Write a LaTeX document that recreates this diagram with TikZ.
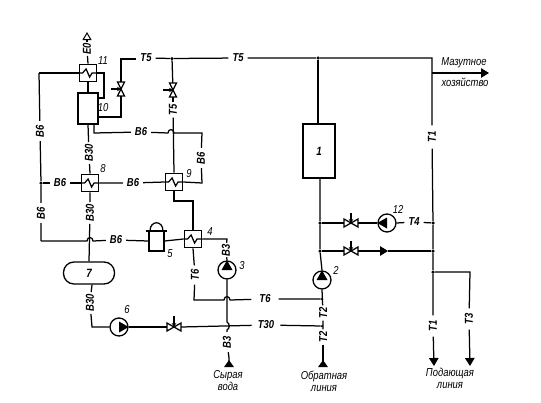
\documentclass[tikz,border=0pt]{standalone}
\usepackage{fontspec}
\usetikzlibrary{arrows.meta,calc}
\newfontfamily\labfont[FakeStretch=0.82]{Liberation Sans}
\tikzset{
  line/.style={line width=1.25pt,draw=black},
  lab/.style={font=\labfont\itshape\bfseries\fontsize{11.5}{12}\selectfont,inner xsep=4pt,inner ysep=1pt,text=black},
  vlab/.style={lab,rotate=90},
  txt/.style={font=\labfont\itshape\fontsize{11.5}{12}\selectfont,inner sep=0pt,text=black},
  box/.style={draw=black,line width=1.3pt,rectangle,inner sep=0pt,fill=white},
  hxbox/.style={box,minimum width=17.5pt,minimum height=17.5pt},
  pumpc/.style={draw=black,line width=1.3pt,circle,minimum size=18pt,inner sep=0pt,fill=white},
  valvebox/.style={inner sep=0pt,minimum width=14pt,minimum height=14pt},
  dot/.style={circle,fill=black,inner sep=0pt,minimum size=3.5pt},
  tipd/.style={-{Triangle[length=8pt,width=9.5pt]}},
  tipb/.style={-{Triangle[reversed,length=7pt,width=9.5pt]}},
  tipo/.style={-{Triangle[open,length=8pt,width=9pt,line width=1pt]}},
  act/.style={line,-{Stealth[length=4pt,width=4.5pt]},line width=1.1pt},
}
% heat exchanger: box with a zigzag
\newcommand{\hxnode}[2]{%
  \node[hxbox] (#1) at (#2) {};
  \draw[line] (#1.west) -- ++(4,0) -- ++(3.5,-4) -- ++(3.5,8) -- ++(2.5,-4) -- (#1.east);}
% valves
\newcommand{\valveV}[2]{%
  \node[valvebox,minimum width=10pt] (#1) at (#2) {};
  \draw[line,fill=white] (#1.center) -- ($(#1.center)+(-3.5,-7)$) -- ($(#1.center)+(3.5,-7)$) -- cycle;
  \draw[line,fill=white] (#1.center) -- ($(#1.center)+(-3.5,7)$) -- ($(#1.center)+(3.5,7)$) -- cycle;}
\newcommand{\valveH}[2]{%
  \node[valvebox,minimum height=10pt] (#1) at (#2) {};
  \draw[line,fill=white] (#1.center) -- ($(#1.center)+(-7,-4)$) -- ($(#1.center)+(-7,4)$) -- cycle;
  \draw[line,fill=white] (#1.center) -- ($(#1.center)+(7,-4)$) -- ($(#1.center)+(7,4)$) -- cycle;}
% pumps: apex direction in the name
\newcommand{\pumpU}[2]{\node[pumpc] (#1) at (#2) {};
  \fill[black] (#1.north) -- ($(#1.center)+(-5.5,0)$) -- ($(#1.center)+(5.5,0)$) -- cycle;}
\newcommand{\pumpR}[2]{\node[pumpc] (#1) at (#2) {};
  \fill[black] (#1.east) -- ($(#1.center)+(0,-5.5)$) -- ($(#1.center)+(0,5.5)$) -- cycle;}
\newcommand{\pumpL}[2]{\node[pumpc] (#1) at (#2) {};
  \fill[black] (#1.west) -- ($(#1.center)+(0,-5.5)$) -- ($(#1.center)+(0,5.5)$) -- cycle;}
\newcommand{\bumpH}{.. controls +(0,-4.5) and +(0,-4.5) .. +(6,0)}
\begin{document}
\begin{tikzpicture}[x=1pt,y=-1pt]
\useasboundingbox (0,0) rectangle (541,402);
\fill[white] (0,0) rectangle (541,402);

% equipment
\hxnode{hxA}{88,73}
\node[box,minimum width=20pt,minimum height=31pt] (col) at (88,108.5) {};
\hxnode{hxB}{90,183}
\hxnode{hxC}{174,182}
\hxnode{hxD}{193,239}
\node[box,minimum width=32pt,minimum height=54pt] (boiler) at (319,151) {\labfont\itshape\bfseries\fontsize{12}{12}\selectfont 1};
\node[box,minimum width=51pt,minimum height=22pt,rounded corners=10.5pt] (tank) at (89,273) {\labfont\itshape\bfseries\fontsize{12}{12}\selectfont 7};
\node[box,minimum width=15pt,minimum height=20pt] (sep) at (156.5,241) {};
\draw[line,fill=white] (150,231) .. controls (150,220) and (163,220) .. (163,231);
\draw[line] (146,231) -- (167,231);
\pumpU{pumpC}{227,270}
\pumpU{pumpB}{322,280}
\pumpR{pumpF}{119,327}
\pumpL{pumpL}{387,223}
\valveV{valA}{121,89}
\valveV{valB}{173,90}
\valveH{valC}{174,327}
\valveH{valD}{351,223}
\valveH{valE}{351,251}

% line labels
\node[vlab,inner xsep=1pt] (lE) at (87,49) {Е0};
\node[lab] (lT5a) at (146,58) {Т5};
\node[lab] (lT5b) at (238,58) {Т5};
\node[vlab,inner xsep=2pt] (lT5c) at (173,110) {Т5};
\node[vlab] (lB6a) at (40,131) {В6};
\node[lab] (lB6b) at (141,132) {В6};
\node[vlab] (lB6c) at (201,158) {В6};
\node[vlab,inner xsep=2pt] (lB30a) at (89,153) {В30};
\node[lab] (lB6d) at (60,183) {В6};
\node[lab] (lB6e) at (133,183) {В6};
\node[vlab,inner xsep=2pt] (lB30b) at (90,213) {В30};
\node[vlab] (lB6f) at (41,213) {В6};
\node[lab] (lB6g) at (116,240) {В6};
\node[vlab,inner xsep=1pt] (lB3a) at (226,250) {В3};
\node[vlab] (lT6a) at (195,275) {Т6};
\node[lab,inner xsep=8pt] (lT6b) at (265,299) {Т6};
\node[lab,inner xsep=6pt] (lT30) at (266,325) {Т30};
\node[vlab,inner xsep=2pt] (lB30c) at (90,303) {В30};
\node[vlab] (lB3b) at (227,342) {В3};
\node[vlab,inner xsep=2pt] (lT2a) at (323,313) {Т2};
\node[vlab,inner xsep=2pt] (lT2b) at (323,337) {Т2};
\node[vlab,inner xsep=6pt] (lT1a) at (432,137) {Т1};
\node[vlab,inner xsep=5pt] (lT1b) at (433,326) {Т1};
\node[vlab,inner xsep=5pt] (lT3) at (469,319) {Т3};
\node[lab,inner xsep=4pt] (lT4) at (414,222) {Т4};

% numbers
\node[txt] (n11) at (103,61) {11};
\node[txt] (n10) at (103,108) {10};
\node[txt] (n8) at (103,169) {8};
\node[txt] (n9) at (189,174) {9};
\node[txt] (n4) at (210,232) {4};
\node[txt] (n5) at (170,254) {5};
\node[txt] (n3) at (242,266) {3};
\node[txt] (n6) at (127,310) {6};
\node[txt] (n2) at (336,270) {2};
\node[txt] (n12) at (398,209) {12};

% free texts
\node[txt] (tMaz) at (464,63) {Мазутное};
\node[txt] (tHoz) at (465,82) {хозяйство};
\node[txt,align=center] (tRaw) at (228,381) {Сырая\\[0pt]вода};
\node[txt,align=center] (tRet) at (324,381) {Обратная\\[0pt]линия};
\node[txt,align=center] (tSup) at (450,378) {Подающая\\[0pt]линия};

% junctions
\coordinate (jLtop) at (39,73);
\coordinate (jLbot) at (41,241);
\coordinate (jT5a) at (121,59);
\coordinate (j5end) at (432,58);
\coordinate (eMaz) at (489,73);
\coordinate (jMaz) at (432,73);
\coordinate (eTop) at (87,32);
\coordinate (bRaw) at (229,367);
\coordinate (bRet) at (323,367);
\coordinate (eT1) at (434,366);
\coordinate (eT3) at (470,366);
\coordinate (c3) at (227,239);
\coordinate (cT6) at (194,300);
\coordinate (cB6top) at (94,133);
\coordinate (cB6r) at (202,133);
\coordinate (cB6rb) at (202,183);
\coordinate (cLink) at (174,201);
\coordinate (cLink2) at (193,201);
\coordinate (cF) at (92,327);
\coordinate (c10a) at (104,73);
\coordinate (c10b) at (104,98);
\coordinate (c10c) at (121,117);
\coordinate (cT3) at (470,272);
\coordinate (aMid) at (388,251);
\coordinate (aValA) at (111,89);
\coordinate (aValB) at (163,90);
\coordinate (aValC) at (174,316);
\coordinate (aValD) at (351,213);
\coordinate (aValE) at (351,241);
\node[dot] (d1) at (41,183) {};
\node[dot] (d2) at (172,58.5) {};
\node[dot] (d3) at (318,58) {};
\node[dot] (d4) at (320,223) {};
\node[dot] (d5) at (320,251) {};
\node[dot] (d6) at (433,223) {};
\node[dot] (d7) at (433,251) {};
\node[dot] (d8) at (433,272) {};
\node[dot,minimum size=2.5pt] (d9) at (322,299) {};
\node[dot,minimum size=2.5pt] (d10) at (322,326) {};

% connectors
\begin{scope}[line]
\draw[tipo] (lE) -- (eTop);
\draw (hxA.north) -- (lE);
\draw (hxA.south) -- (col.north);
\draw (jLtop) -- (hxA.west);
\draw (jLtop) -- (lB6a) -- (d1) -- (lB6f) -- (jLbot);
\draw (hxA.east) -- (c10a) -- (c10b) -- (col.east |- c10b);
\draw (col.east |- c10c) -- (c10c) -- (valA);
\draw (valA) -- (jT5a) -- (jT5a -| lT5a.west);
\draw (lT5a) -- (d2) -- (lT5b) -- (d3) -- (j5end) -- (jMaz);
\draw (d2) -- (valB);
\draw (valB) -- (lT5c);
\draw (jMaz) -- (lT1a) -- (d6) -- (d7) -- (d8) -- (lT1b);
\draw[tipd] (lT1b) -- (eT1);
\draw[tipd] (jMaz) -- (eMaz);
\draw (col.south) -- (lB30a) -- (hxB.north);
% B6 from column over T5 riser
\draw (col.south -| cB6top) -- (cB6top) -- (lB6b);
\draw (lB6b) -- (168,133) \bumpH -- (cB6r) -- (lB6c) -- (cB6rb) -- (hxC.east);
\draw (lT5c) -- (hxC.north);
\draw (hxB.east) -- (lB6e) -- (hxC.west);
\draw (d1) -- (lB6d) -- (hxB.west);
\draw (hxB.south) -- (lB30b) -- (tank.north);
\draw (jLbot) -- (87,241) \bumpH -- (lB6g) -- (sep.west);
\draw (sep.east) -- (hxD.west);
\draw (hxC.south) -- (cLink) -- (cLink2) -- (hxD.north);
\draw (hxD.east) -- (c3) -- (lB3a) -- (pumpC.north);
\draw (hxD.south) -- (lT6a) -- (cT6) -- (224,300) \bumpH -- (lT6b) -- (d9);
\draw (pumpC.south) -- (227,322) .. controls (230,324) and (230,328) .. (227,330) -- (lB3b);
\draw[tipb] (lB3b) -- (bRaw |- 0,358) -- (bRaw);
\draw (tank.south -| cF) -- (lB30c) -- (cF) -- (pumpF.west);
\draw (pumpF.east) -- (valC.west);
\draw (valC.east) -- (lT30);
\draw (lT30) -- (d10);
\draw (boiler.north -| d3) -- (d3);
\draw (boiler.south -| d4) -- (d4) -- (d5) -- (pumpB.north);
\draw (pumpB.south) -- (lT2a) -- (lT2b);
\draw[tipb] (lT2b) -- (bRet);
\draw (d4) -- (valD.west);
\draw (valD.east) -- (pumpL.west);
\draw (pumpL.east) -- (lT4) -- (d6);
\draw (d5) -- (valE.west);
\draw[tipd] (valE.east) -- (aMid);
\draw (aMid) -- (d7);
\draw (d8) -- (cT3) -- (lT3);
\draw[tipd] (lT3) -- (eT3);
\draw[act] (aValA) -- (valA.center);
\draw[act] (aValB) -- (valB.center);
\draw[act] (aValC) -- (valC.center);
\draw[act] (aValD) -- (valD.center);
\draw[act] (aValE) -- (valE.center);
\end{scope}
\end{tikzpicture}
\end{document}
